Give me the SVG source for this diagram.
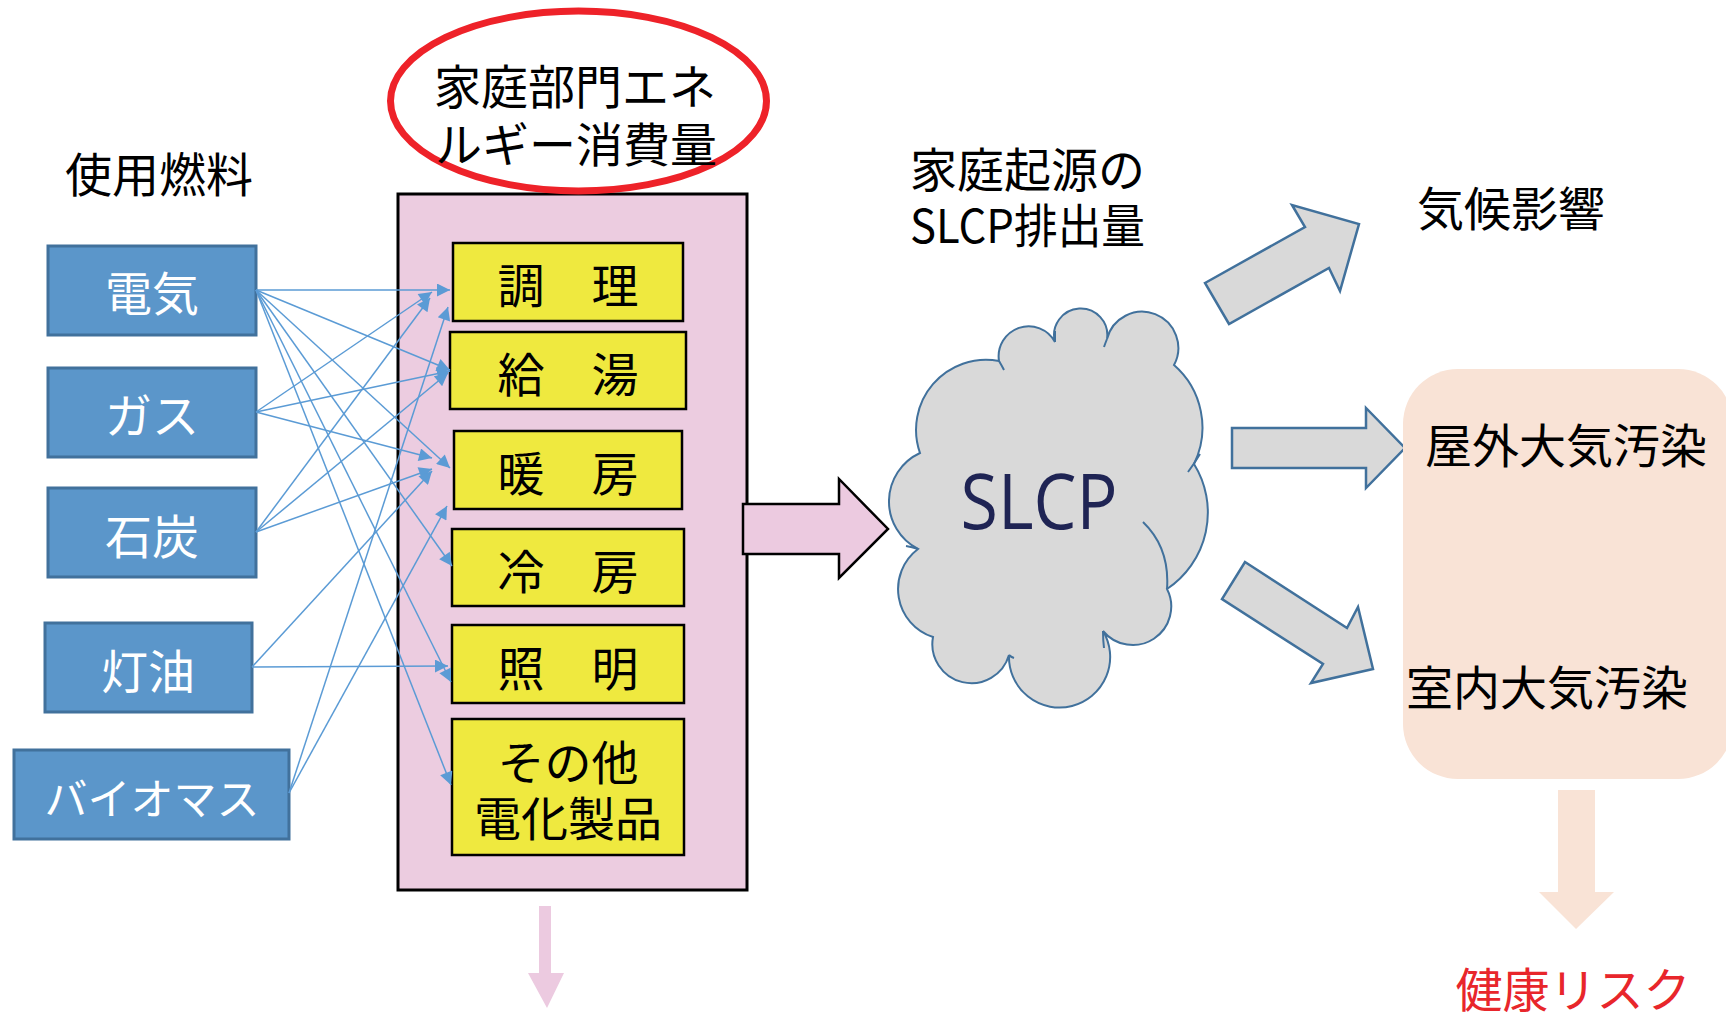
<svg xmlns="http://www.w3.org/2000/svg" width="1726" height="1012" viewBox="0 0 1726 1012">
<style>
  .jp { font-family: "Noto Sans CJK JP", "Noto Sans", sans-serif; font-size: 47px; }
  .fuel rect { fill: #5B96CA; stroke: #41719C; stroke-width: 3; }
  .fuel text { fill: #FFFFFF; text-anchor: middle; }
  .use rect { fill: #EFE93F; stroke: #000000; stroke-width: 2.5; }
  .use text { fill: #000000; text-anchor: middle; }
  .lbl { fill: #000000; }
  .conn line { stroke: #5B9BD5; stroke-width: 1.5; marker-end: url(#ah); }
  .gray { fill: #D9D9D9; stroke: #41719C; stroke-width: 2.5; stroke-linejoin: miter; }
</style>
<defs>
  <marker id="ah" viewBox="0 0 10 10" refX="10" refY="5" markerUnits="userSpaceOnUse" markerWidth="16" markerHeight="13" orient="auto">
    <path d="M0,0 L10,5 L0,10 z" fill="#5B9BD5"/>
  </marker>
</defs>
<rect x="0" y="0" width="1726" height="1012" fill="#FFFFFF"/>

<g id="title-fuel"><text class="jp lbl" x="159" y="192" text-anchor="middle">使用燃料</text></g>

<g id="fuel-denki" class="fuel"><rect x="48" y="246" width="208" height="89"/><text class="jp" x="152" y="311">電気</text></g>
<g id="fuel-gas" class="fuel"><rect x="48" y="368" width="208" height="89"/><text class="jp" x="152" y="433">ガス</text></g>
<g id="fuel-coal" class="fuel"><rect x="48" y="488" width="208" height="89"/><text class="jp" x="152" y="554">石炭</text></g>
<g id="fuel-kerosene" class="fuel"><rect x="45" y="623" width="207" height="89"/><text class="jp" x="148" y="689">灯油</text></g>
<g id="fuel-biomass" class="fuel"><rect x="14" y="750" width="275" height="89"/><text class="jp" x="152" y="815" style="font-size:43px">バイオマス</text></g>

<g id="household-box">
  <rect x="398" y="194" width="349" height="696" fill="#ECCCE0" stroke="#000000" stroke-width="3"/>
</g>

<g id="use-cooking" class="use"><rect x="453" y="243" width="230" height="78"/><text class="jp" x="568" y="303">調　理</text></g>
<g id="use-hotwater" class="use"><rect x="450" y="332" width="236" height="77"/><text class="jp" x="568" y="392">給　湯</text></g>
<g id="use-heating" class="use"><rect x="454" y="431" width="228" height="78"/><text class="jp" x="568" y="491">暖　房</text></g>
<g id="use-cooling" class="use"><rect x="452" y="529" width="232" height="77"/><text class="jp" x="568" y="589">冷　房</text></g>
<g id="use-lighting" class="use"><rect x="452" y="625" width="232" height="78"/><text class="jp" x="568" y="686">照　明</text></g>
<g id="use-other" class="use"><rect x="452" y="719" width="232" height="136"/><text class="jp" x="568" y="780">その他</text><text class="jp" x="568" y="836">電化製品</text></g>

<g id="title-energy">
  <ellipse cx="578.5" cy="101" rx="188" ry="90" fill="none" stroke="#EE2229" stroke-width="7"/>
  <text class="jp lbl" x="575" y="104" text-anchor="middle">家庭部門エネ</text>
  <text class="jp lbl" x="576" y="162" text-anchor="middle">ルギー消費量</text>
</g>

<g id="connectors" class="conn">
  <line x1="256" y1="290" x2="450" y2="290"/>
  <line x1="256" y1="290" x2="450" y2="370"/>
  <line x1="256" y1="290" x2="450" y2="468"/>
  <line x1="256" y1="290" x2="452" y2="566"/>
  <line x1="256" y1="290" x2="451" y2="682"/>
  <line x1="256" y1="290" x2="451" y2="785"/>
  <line x1="256" y1="412" x2="432" y2="292"/>
  <line x1="256" y1="412" x2="450" y2="371"/>
  <line x1="256" y1="412" x2="432" y2="458"/>
  <line x1="256" y1="532" x2="430" y2="298"/>
  <line x1="256" y1="532" x2="448" y2="373"/>
  <line x1="256" y1="532" x2="432" y2="469"/>
  <line x1="252" y1="667" x2="448" y2="666"/>
  <line x1="252" y1="667" x2="432" y2="471"/>
  <line x1="289" y1="793" x2="448" y2="307"/>
  <line x1="289" y1="793" x2="447" y2="506"/>
</g>

<g id="arrow-to-slcp">
  <polygon points="743,504 839,504 839,479 888,529 839,578 839,554 743,554" fill="#ECCAE0" stroke="#000000" stroke-width="2.5"/>
</g>
<g id="arrow-down-pink">
  <polygon points="539,906 551,906 551,973 564,973 547,1008 528,973 539,973" fill="#ECCAE0"/>
</g>

<g id="title-slcp">
  <text class="jp lbl" x="910" y="187">家庭起源の</text>
  <text class="jp lbl" x="910" y="243" textLength="235" lengthAdjust="spacingAndGlyphs">SLCP排出量</text>
</g>

<g id="cloud-slcp">
  <path d="M920,453 A70 70 0 0 1 999,361 A30 30 0 0 1 1055,342 A26.6 26.6 0 1 1 1107,339 A36.2 36.2 0 1 1 1174,365 A83 83 0 0 1 1194,464 A92 92 0 0 1 1167,589 A38.5 38.5 0 0 1 1103,631 A50.6 50.6 0 1 1 1009,655 A39.1 39.1 0 0 1 933,637 A50.3 50.3 0 0 1 918,549 A53.4 53.4 0 0 1 920,453 Z" fill="#D9D9D9" stroke="#41719C" stroke-width="2"/>
  <path d="M1143,522 Q1170,548 1167,589 M918,549 Q912,547 906,546 M999,361 Q1002,366 1004,370 M1055,342 Q1055,336 1055,331 M1107,339 Q1105,344 1104,347 M1188,472 Q1194,464 1200,454 M1103,631 Q1103,640 1104,648 M1009,655 Q1011,657 1014,658" fill="none" stroke="#41719C" stroke-width="2"/>
  <text x="1039" y="529" text-anchor="middle" font-family="'Open Sans', 'Noto Sans', sans-serif" font-size="77" textLength="157" lengthAdjust="spacingAndGlyphs" fill="#1F2454">SLCP</text>
</g>

<g id="arrow-climate"><polygon class="gray" points="1205,283 1305,227 1292,205 1359,224 1340,291 1329,268 1229,324"/></g>
<g id="arrow-outdoor"><polygon class="gray" points="1232,428 1366,428 1366,408 1405,448 1366,488 1366,468 1232,468"/></g>
<g id="arrow-indoor"><polygon class="gray" points="1245,562 1347,628 1358,607 1373,669 1311,683 1323,664 1222,599"/></g>

<g id="label-climate"><text class="jp lbl" x="1511" y="226" text-anchor="middle">気候影響</text></g>

<g id="pollution-box">
  <rect x="1403" y="369" width="330" height="410" rx="55" ry="55" fill="#F9E3D6"/>
  <text class="jp lbl" x="1566" y="463" text-anchor="middle">屋外大気汚染</text>
  <text class="jp lbl" x="1547" y="705" text-anchor="middle">室内大気汚染</text>
</g>

<g id="arrow-down-peach">
  <polygon points="1558,790 1595,790 1595,892 1614,892 1576,929 1539,892 1558,892" fill="#F9E3D6"/>
</g>

<g id="label-health"><text class="jp" x="1573" y="1007" text-anchor="middle" fill="#E8262B">健康リスク</text></g>
</svg>
